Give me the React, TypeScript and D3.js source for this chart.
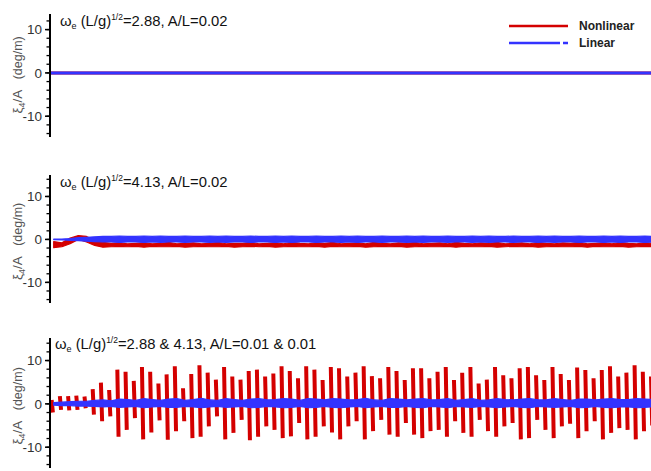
import { useEffect, useRef } from 'react';
import * as d3 from 'd3';

// Panel titles (text after "ωe (L/g)^1/2")
const panelTitles = ['=2.88, A/L=0.02', '=4.13, A/L=0.02', '=2.88 & 4.13, A/L=0.01 & 0.01'];
const yMajorTicks = [-10, 0, 10];
const legendLabels = ['Nonlinear', 'Linear'];

// Panel 1: both responses stay on zero
const p1Time = [-0.2, 73];
const p1Nonlinear = [0, 0];
const p1Linear = [0, 0];

// Panel 2: per-cycle peaks (max / min)
const p2NonlinearMax = [-0.5, -0.8, 0.3, 0.9, 0.7, -0.2, -0.7, -0.9, -0.8, -1.0, -0.9, -0.8, -1.0, -0.9, -0.7, -1.0, -0.9, -0.8, -1.0, -0.9, -0.7, -1.0, -0.9, -0.9, -0.7, -1.0, -0.9, -0.8, -1.0, -0.7, -0.9, -1.0, -0.8, -0.9, -0.7, -1.0, -0.9, -0.8, -1.0, -0.7, -0.9, -1.0, -0.8, -0.9, -0.7, -1.0, -0.9, -0.8, -1.0, -0.7, -0.9, -1.0, -0.8, -0.9, -0.7, -1.0, -0.9, -0.8, -1.0, -0.7, -0.9, -1.0, -0.8, -0.9, -0.7, -1.0, -0.9, -0.8, -1.0, -0.7, -0.9, -1.0, -0.8, -0.9];
const p2NonlinearMin = [-1.9, -1.7, -1.0, 0.0, -0.6, -1.4, -1.8, -1.7, -1.6, -1.7, -1.6, -1.8, -1.6, -1.7, -1.7, -1.6, -1.8, -1.7, -1.6, -1.7, -1.7, -1.6, -1.8, -1.7, -1.6, -1.7, -1.6, -1.8, -1.7, -1.6, -1.7, -1.7, -1.6, -1.8, -1.6, -1.7, -1.7, -1.6, -1.8, -1.7, -1.6, -1.7, -1.6, -1.8, -1.7, -1.6, -1.7, -1.7, -1.6, -1.8, -1.6, -1.7, -1.7, -1.6, -1.8, -1.7, -1.6, -1.7, -1.6, -1.8, -1.7, -1.6, -1.7, -1.7, -1.6, -1.8, -1.6, -1.7, -1.7, -1.6, -1.8, -1.7, -1.6, -1.7];
const p2LinearMax = [0.05, 0.1, 0.2, 0.4, 0.5, 0.6, 0.7, 0.7, 0.8, 0.7, 0.7, 0.8, 0.7, 0.8, 0.7, 0.7, 0.8, 0.7, 0.7, 0.8, 0.7, 0.8, 0.7, 0.7, 0.8, 0.7, 0.7, 0.8, 0.7, 0.8, 0.7, 0.7, 0.8, 0.7, 0.7, 0.8, 0.7, 0.8, 0.7, 0.7, 0.8, 0.7, 0.7, 0.8, 0.7, 0.8, 0.7, 0.7, 0.8, 0.7, 0.7, 0.8, 0.7, 0.8, 0.7, 0.7, 0.8, 0.7, 0.7, 0.8, 0.7, 0.8, 0.7, 0.7, 0.8, 0.7, 0.7, 0.8, 0.7, 0.8, 0.7, 0.7, 0.8, 0.7];
const p2LinearMin = [-0.05, -0.1, -0.2, -0.3, -0.4, -0.5, -0.6, -0.6, -0.7, -0.6, -0.6, -0.7, -0.6, -0.7, -0.6, -0.6, -0.7, -0.6, -0.6, -0.7, -0.6, -0.7, -0.6, -0.6, -0.7, -0.6, -0.6, -0.7, -0.6, -0.7, -0.6, -0.6, -0.7, -0.6, -0.6, -0.7, -0.6, -0.7, -0.6, -0.6, -0.7, -0.6, -0.6, -0.7, -0.6, -0.7, -0.6, -0.6, -0.7, -0.6, -0.6, -0.7, -0.6, -0.7, -0.6, -0.6, -0.7, -0.6, -0.6, -0.7, -0.6, -0.7, -0.6, -0.6, -0.7, -0.6, -0.6, -0.7, -0.6, -0.7, -0.6, -0.6, -0.7, -0.6];

// Panel 3: per-cycle peaks of the bichromatic response
const p3NonlinearMax = [0.9, 1.8, 1.8, 1.9, 1.7, 3.4, 4.9, 3.2, 7.9, 7.4, 5.3, 8.5, 7.4, 4.7, 6.8, 8.7, 3.6, 6.9, 8.9, 7.2, 5.6, 8.5, 6.3, 5.6, 7.6, 7.9, 6.3, 7.0, 8.7, 7.6, 5.9, 8.7, 7.9, 5.5, 8.5, 8.2, 6.3, 7.2, 8.7, 6.4, 5.9, 8.5, 7.6, 5.5, 8.2, 8.2, 5.9, 7.4, 8.5, 5.5, 7.2, 8.5, 4.7, 5.6, 8.5, 6.6, 5.9, 8.2, 8.5, 6.6, 5.5, 8.5, 6.9, 5.5, 8.4, 7.8, 5.9, 7.8, 8.7, 6.3, 7.2, 8.9, 7.4, 6.3];
const p3NonlinearMin = [-2.0, -1.4, -1.5, -1.4, -1.0, -2.5, -4.0, -2.9, -7.6, -6.0, -3.3, -8.2, -6.6, -3.8, -8.3, -6.3, -4.0, -7.9, -7.6, -5.2, -2.9, -8.2, -6.7, -3.7, -8.4, -7.6, -5.2, -6.0, -7.9, -7.5, -4.4, -8.2, -7.6, -5.2, -6.6, -8.2, -5.2, -4.0, -8.2, -6.3, -3.7, -7.1, -7.6, -4.4, -7.1, -7.9, -6.3, -6.0, -7.6, -4.0, -6.7, -7.6, -3.7, -6.3, -7.6, -5.2, -4.4, -8.2, -7.9, -3.7, -6.0, -7.9, -5.2, -4.6, -7.9, -6.3, -4.0, -8.2, -6.7, -5.6, -6.0, -8.2, -6.3, -5.0];
const p3LinearMax = [0.3, 0.4, 0.5, 0.6, 0.6, 0.8, 0.9, 0.7, 1.1, 1.0, 0.8, 1.2, 1.0, 0.8, 1.1, 1.2, 0.8, 1.0, 1.3, 0.9, 0.8, 1.2, 1.0, 0.8, 1.1, 1.2, 0.9, 1.0, 1.2, 1.1, 0.8, 1.2, 1.1, 0.9, 1.2, 1.1, 0.9, 1.0, 1.3, 0.9, 0.8, 1.2, 1.1, 0.9, 1.1, 1.2, 0.9, 1.0, 1.2, 0.8, 1.0, 1.2, 0.8, 0.9, 1.2, 1.0, 0.9, 1.1, 1.2, 0.9, 0.9, 1.2, 1.0, 0.8, 1.1, 1.1, 0.9, 1.1, 1.2, 1.0, 1.0, 1.2, 1.1, 1.0];
const p3LinearMin = [-0.3, -0.4, -0.4, -0.5, -0.5, -0.6, -0.7, -0.6, -0.8, -0.7, -0.6, -0.9, -0.7, -0.6, -0.8, -0.8, -0.6, -0.7, -0.9, -0.7, -0.6, -0.8, -0.7, -0.6, -0.9, -0.8, -0.6, -0.7, -0.9, -0.8, -0.6, -0.9, -0.8, -0.6, -0.8, -0.9, -0.7, -0.6, -0.9, -0.7, -0.6, -0.8, -0.8, -0.6, -0.8, -0.9, -0.6, -0.7, -0.9, -0.6, -0.7, -0.8, -0.6, -0.7, -0.9, -0.7, -0.6, -0.8, -0.9, -0.6, -0.7, -0.8, -0.7, -0.6, -0.9, -0.8, -0.6, -0.8, -0.9, -0.7, -0.7, -0.9, -0.8, -0.7];

const RED = '#d40000';
const BLUE = '#3333ff';
const FONT = '"Liberation Sans", Arial, sans-serif';

type Pt = [number, number];

const App = () => {
  const chartRef = useRef<SVGSVGElement>(null);

  useEffect(() => {
    if (!chartRef.current) return;
    d3.select(chartRef.current).selectAll('*').remove();

    const width = 651;
    const height = 471;
    const axisX = 50;

    const svg = d3
      .select(chartRef.current)
      .attr('width', width)
      .attr('height', height)
      .style('font-family', FONT);

    const x = d3.scaleLinear().domain([-0.2, 73]).range([axisX, width]);

    const panels = [
      { top: 14, bottom: 137, domain: [-14.8, 13.6], titleY: 26, titleX: 60 },
      { top: 175, bottom: 303, domain: [-14.8, 15], titleY: 187, titleX: 60 },
      { top: 338, bottom: 468, domain: [-14.8, 15.2], titleY: 349, titleX: 55 },
    ];

    panels.forEach((p, idx) => {
      const y = d3.scaleLinear().domain(p.domain).range([p.bottom, p.top]);
      const g = svg.append('g');
      const line = d3
        .line<Pt>()
        .x((d) => x(d[0]))
        .y((d) => y(d[1]));

      // envelope of a fast oscillation, drawn as a filled band
      const band = (maxs: number[], mins: number[], color: string) => {
        const area = d3
          .area<number>()
          .x((_, i) => x(i + 0.25))
          .y0((_, i) => y(mins[i]))
          .y1((d) => y(d));
        g.append('path')
          .attr('d', area(maxs))
          .attr('fill', color)
          .attr('stroke', color)
          .attr('stroke-width', 1.2)
          .attr('stroke-linejoin', 'round');
      };

      if (idx === 0) {
        const nl: Pt[] = p1Time.map((t, i) => [t, p1Nonlinear[i]]);
        const li: Pt[] = p1Time.map((t, i) => [t, p1Linear[i]]);
        g.append('path').attr('d', line(nl)).attr('fill', 'none').attr('stroke', RED).attr('stroke-width', 3);
        g.append('path').attr('d', line(li)).attr('fill', 'none').attr('stroke', BLUE).attr('stroke-width', 3);
      } else if (idx === 1) {
        band(p2NonlinearMax, p2NonlinearMin, RED);
        band(p2LinearMax, p2LinearMin, BLUE);
      } else {
        // each cycle drawn as a near-vertical stroke
        const segs = p3NonlinearMax
          .map((mx, i) => line([[i + 0.15, p3NonlinearMin[i]], [i, mx]]))
          .join('');
        g.append('path')
          .attr('d', segs)
          .attr('fill', 'none')
          .attr('stroke', RED)
          .attr('stroke-width', 4)
          .attr('stroke-linecap', 'butt');
        band(p3LinearMax, p3LinearMin, BLUE);
      }

      // y axis
      g.append('line')
        .attr('x1', axisX)
        .attr('x2', axisX)
        .attr('y1', p.top)
        .attr('y2', p.bottom)
        .attr('stroke', '#000')
        .attr('stroke-width', 2);

      const minor = d3.range(-14, 15, 2).filter((v) => v >= p.domain[0] && v <= p.domain[1]);
      g.selectAll('.minor')
        .data(minor)
        .enter()
        .append('line')
        .attr('x1', axisX - 3.5)
        .attr('x2', axisX)
        .attr('y1', (d) => y(d))
        .attr('y2', (d) => y(d))
        .attr('stroke', '#000')
        .attr('stroke-width', 1.3);
      g.selectAll('.major')
        .data(yMajorTicks)
        .enter()
        .append('line')
        .attr('x1', axisX - 5)
        .attr('x2', axisX)
        .attr('y1', (d) => y(d))
        .attr('y2', (d) => y(d))
        .attr('stroke', '#000')
        .attr('stroke-width', 1.5);
      g.selectAll('.tl')
        .data(yMajorTicks)
        .enter()
        .append('text')
        .attr('x', axisX - 8)
        .attr('y', (d) => y(d))
        .attr('dy', '0.36em')
        .attr('text-anchor', 'end')
        .attr('font-size', 13.5)
        .attr('fill', '#333')
        .text((d) => (d < 0 ? `-${Math.abs(d)}` : `${d}`));

      // y label
      const yl = g
        .append('text')
        .attr('transform', `translate(22,${y(0) + 2}) rotate(-90)`)
        .attr('text-anchor', 'middle')
        .attr('font-size', 12.5)
        .attr('fill', '#555');
      yl.append('tspan').attr('font-size', 13.5).text('ξ');
      yl.append('tspan').attr('font-size', 9).attr('dy', 3).text('4');
      yl.append('tspan').attr('font-size', 13.5).attr('dy', -3).text('/A');
      yl.append('tspan').text('\u00a0\u00a0\u00a0(deg/m)');

      // title
      const tt = g
        .append('text')
        .attr('x', p.titleX)
        .attr('y', p.titleY)
        .attr('font-size', 14.8)
        .attr('fill', '#111');
      tt.append('tspan').text('ω');
      tt.append('tspan').attr('font-size', 9).attr('dy', 3).text('e');
      tt.append('tspan').attr('dy', -3).text('\u00a0(L/g)');
      tt.append('tspan').attr('font-size', 8.5).attr('dy', -6.5).text('1/2');
      tt.append('tspan').attr('dy', 6.5).text(panelTitles[idx]);
    });

    // legend
    const lg = svg.append('g');
    const legendY = [26, 43];
    lg.append('line')
      .attr('x1', 509)
      .attr('x2', 568)
      .attr('y1', legendY[0])
      .attr('y2', legendY[0])
      .attr('stroke', RED)
      .attr('stroke-width', 2.6);
    lg.append('line')
      .attr('x1', 509)
      .attr('x2', 568)
      .attr('y1', legendY[1])
      .attr('y2', legendY[1])
      .attr('stroke', BLUE)
      .attr('stroke-width', 2.6)
      .attr('stroke-dasharray', '51 3 6 3');
    lg.selectAll('.lt')
      .data(legendLabels)
      .enter()
      .append('text')
      .attr('x', 579)
      .attr('y', (_, i) => legendY[i])
      .attr('dy', '0.35em')
      .attr('font-size', 12)
      .attr('font-weight', 'bold')
      .attr('fill', '#222')
      .text((d) => d);
  }, []);

  return (
    <div style={{ position: 'absolute', left: 0, top: 0, background: '#fff' }}>
      <svg ref={chartRef} style={{ display: 'block' }} />
    </div>
  );
};

export default App;
